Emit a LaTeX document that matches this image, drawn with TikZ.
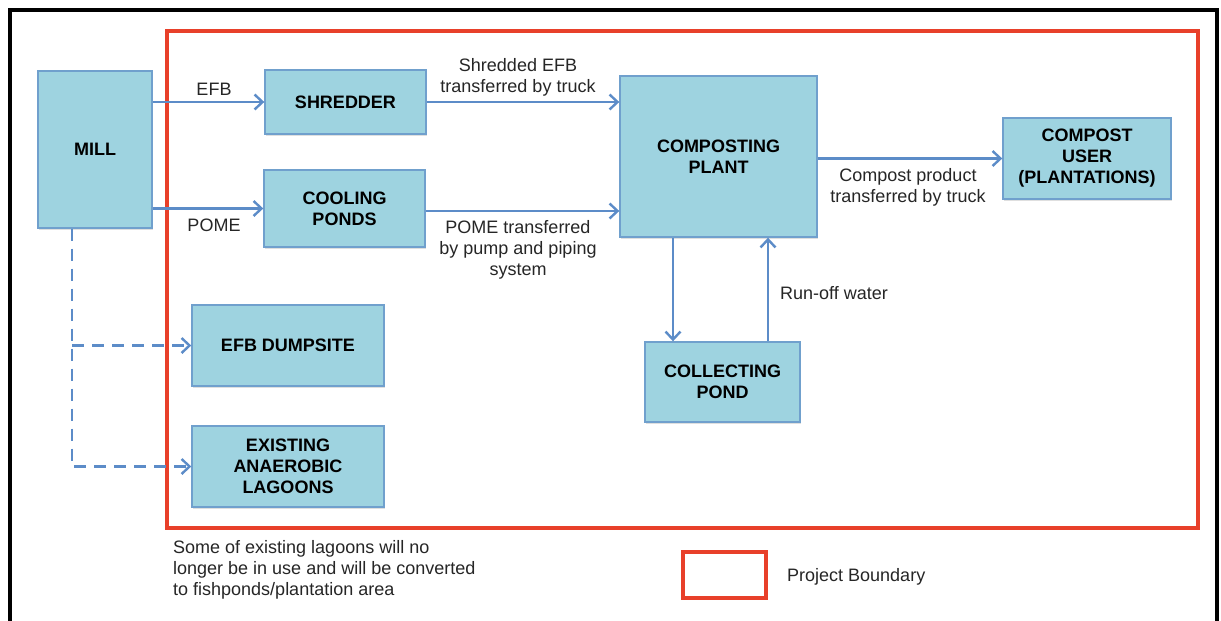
\documentclass[tikz,border=0pt]{standalone}
\usepackage{fontspec}
\setmainfont{Liberation Sans}
\usetikzlibrary{arrows.meta,shadows}
\definecolor{boxfill}{RGB}{158,211,224}
\definecolor{boxline}{RGB}{112,160,205}
\definecolor{arrcol}{RGB}{92,140,200}
\definecolor{redb}{RGB}{232,64,42}
\tikzset{
  box/.style={draw=boxline, line width=1.4pt, fill=boxfill, align=center,
    font=\fontsize{18}{21}\selectfont\bfseries, inner sep=2pt,
    drop shadow={opacity=0.25, shadow xshift=1pt, shadow yshift=-2pt}},
  lbl/.style={align=center, font=\fontsize{18}{21}\selectfont, inner sep=0pt, text=black!85},
  arr/.style={draw=arrcol, line width=2.6pt, -{Straight Barb[length=8pt,width=15pt,line width=2.4pt]}},
  dasharr/.style={arr, dash pattern=on 12pt off 8pt},
}
\begin{document}
\begin{tikzpicture}[x=1pt,y=-1pt]
\useasboundingbox (0,0) rectangle (1221,621);
\fill[white] (0,0) rectangle (1221,621);
% outer frame
\draw[line width=4pt, black] (10,621) -- (10,10) -- (1217,10) -- (1217,621);
% project boundary
\draw[line width=4pt, redb] (167,31) rectangle (1198,528);

% boxes
\node[box, minimum width=114pt, minimum height=157pt] (mill) at (95,149.5) {MILL};
\node[box, minimum width=161pt, minimum height=64pt] (shredder) at (345.5,102) {SHREDDER};
\node[box, minimum width=161pt, minimum height=77pt] (cooling) at (344.5,208.5) {COOLING\\PONDS};
\node[box, minimum width=192pt, minimum height=81pt] (dump) at (288,345.5) {EFB DUMPSITE};
\node[box, minimum width=192pt, minimum height=81pt] (lagoons) at (288,466.5) {EXISTING\\ANAEROBIC\\LAGOONS};
\node[box, minimum width=197pt, minimum height=161pt] (plant) at (718.5,156.5) {COMPOSTING\\PLANT};
\node[box, minimum width=168pt, minimum height=81pt] (user) at (1087,158.5) {COMPOST\\USER\\(PLANTATIONS)};
\node[box, minimum width=155pt, minimum height=80pt] (pond) at (722.5,382) {COLLECTING\\POND};

% connectors
\draw[arr] (mill.east |- shredder.west) -- (shredder.west);
\draw[arr] (mill.east |- cooling.west) -- (cooling.west);
\draw[arr] (shredder.east) -- (shredder.east -| plant.west);
\draw[arr] ([yshift=-2.5pt]cooling.east) -- ([yshift=-2.5pt]cooling.east -| plant.west);
\draw[arr] (plant.east |- user.west) -- (user.west);
\draw[arr] ([xshift=-45.5pt]plant.south) -- ([xshift=-45.5pt]plant.south |- pond.north);
\draw[arr] ([xshift=49.5pt]plant.south |- pond.north) -- ([xshift=49.5pt]plant.south);
\coordinate (trunk) at ([xshift=-23pt]mill.south);
\draw[dasharr] (trunk) -- (trunk |- lagoons.west) -- (lagoons.west);
\draw[dasharr] (trunk |- dump.west) -- (dump.west);

% labels
\node[lbl] (lefb) at (214,89) {EFB};
\node[lbl] (lpome) at (214,225) {POME};
\node[lbl] (lshred) at (518,77.5) {Shredded EFB\\transferred by truck};
\node[lbl] (lpipe) at (518,250) {POME transferred\\by pump and piping\\system};
\node[lbl] (lprod) at (908,187.5) {Compost product\\transferred by truck};
\node[lbl, anchor=west] (lrun) at (780,293) {Run-off water};
\node[lbl, align=left, anchor=west] (note) at (173,570) {Some of existing lagoons will no\\longer be in use and will be converted\\to fishponds/plantation area};

% legend
\node[draw=redb, line width=4pt, minimum width=83pt, minimum height=46pt, inner sep=0pt] (legend) at (724.5,575) {};
\node[lbl, anchor=west] (legtext) at (787,577) {Project Boundary};
\end{tikzpicture}
\end{document}
